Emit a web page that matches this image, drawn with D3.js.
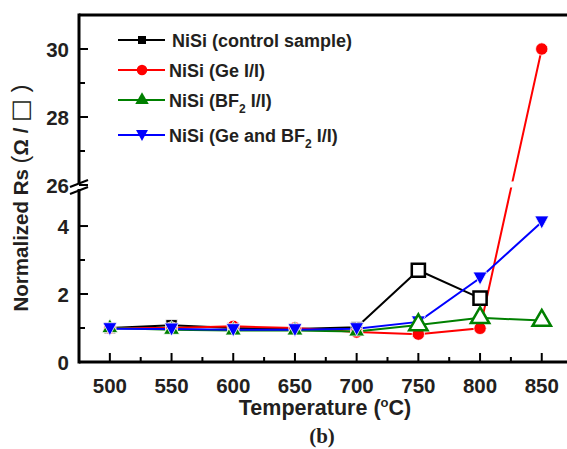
<!DOCTYPE html>
<html>
<head>
<meta charset="utf-8">
<script src="https://cdn.jsdelivr.net/npm/d3@7"></script>
<style>
  body { margin: 0; background: #fff; }
  text { font-family: "Liberation Sans", Arial, sans-serif; font-weight: bold; fill: #231f20; }
</style>
</head>
<body>
<div id="chart-area"></div>
<script>
// Data
let temps = [500, 550, 600, 650, 700, 750, 800, 850];
let control = [1.0, 1.08, 1.0, 0.97, 1.02, 2.7, 1.88, null];
let geII = [1.0, 1.0, 1.05, 1.0, 0.88, 0.82, 0.99, 30];
let bf2II = [1.0, 0.95, 0.93, 0.93, 0.9, 1.09, 1.3, 1.22];
let geBf2II = [0.98, 0.97, 0.95, 0.95, 0.98, 1.18, 2.47, 4.12];
let xTicks = [500, 550, 600, 650, 700, 750, 800, 850];
let yTicksLow = [0, 2, 4];
let yTicksHigh = [26, 28, 30];

let width = 567, height = 449;
let svg = d3.select("#chart-area").append("svg")
    .attr("width", width)
    .attr("height", height);

// Scales (broken y axis)
let plotL = 79, plotR = 567, plotT = 15, plotB = 362;
let x = d3.scaleLinear().domain([475, 870]).range([plotL, plotL + (870 - 475) * 61.7 / 50]);
let yLow = d3.scaleLinear().domain([0, 5.06]).range([plotB, 190]);
let yHigh = d3.scaleLinear().domain([26, 31]).range([185, plotT]);
let y = v => v <= 5.06 ? yLow(v) : yHigh(v);

let series = [
  {name: "NiSi (control sample)", values: control, color: "#000", shape: "square", openFrom: 5},
  {name: "NiSi (Ge I/I)", values: geII, color: "#ff0000", shape: "circle", openFrom: 99},
  {name: "NiSi (BF|2| I/I)", values: bf2II, color: "#008000", shape: "triangle", openFrom: 5},
  {name: "NiSi (Ge and BF|2| I/I)", values: geBf2II, color: "#0000ff", shape: "triangleDown", openFrom: 99}
];

function symbolPath(shape) {
  if (shape === "square") return d3.symbol(d3.symbolSquare, 130)();
  if (shape === "circle") return d3.symbol(d3.symbolCircle, 120)();
  if (shape === "triangle") return d3.symbol(d3.symbolTriangle, 110)();
  return "M-7,-6L7,-6L0,7Z";
}

// Lines
let line = d3.line()
    .defined(d => d.v != null)
    .x(d => x(d.t))
    .y(d => y(d.v));

let plot = svg.append("g");
series.forEach(s => {
  let pts = temps.map((t, i) => ({t: t, v: s.values[i]}));
  plot.append("path")
      .datum(pts)
      .attr("fill", "none")
      .attr("stroke", s.color)
      .attr("stroke-width", 2)
      .attr("d", line);
});

// White gap where lines cross the break
plot.append("path")
    .attr("d", `M${plotL + 2},${186}L${plotR},${181}L${plotR},${187}L${plotL + 2},${192}Z`)
    .attr("fill", "#fff");

// Markers: filled first, open ones on top
[false, true].forEach(openPass => {
  series.forEach(s => {
    temps.forEach((t, i) => {
      let v = s.values[i];
      if (v == null) return;
      let open = i >= s.openFrom;
      if (open !== openPass) return;
      let sz = open ? 1.15 : 1;
      plot.append("path")
          .attr("d", symbolPath(s.shape))
          .attr("transform", `translate(${x(t)},${y(v)}) scale(${sz})`)
          .attr("fill", open ? "#fff" : s.color)
          .attr("stroke", open ? s.color : "#fff")
          .attr("stroke-width", open ? 2.2 : 0.8);
    });
  });
});

// Axes frame
let axis = svg.append("g").attr("stroke", "#000").attr("stroke-width", 3);
axis.append("line").attr("x1", plotL).attr("x2", plotR).attr("y1", plotB).attr("y2", plotB);
axis.append("line").attr("x1", plotL).attr("x2", plotR).attr("y1", plotT).attr("y2", plotT);
axis.append("line").attr("x1", plotL).attr("x2", plotL).attr("y1", plotT - 1.5).attr("y2", 183);
axis.append("line").attr("x1", plotL).attr("x2", plotL).attr("y1", 189).attr("y2", plotB + 1.5);

// Break marks
axis.append("line").attr("x1", plotL - 9).attr("x2", plotL + 9).attr("y1", 187).attr("y2", 180).attr("stroke-width", 2);
axis.append("line").attr("x1", plotL - 9).attr("x2", plotL + 9).attr("y1", 194).attr("y2", 187).attr("stroke-width", 2);

// X ticks (inward)
let xMinor = d3.range(475, 870, 25);
xMinor.forEach(t => {
  let major = t % 50 === 0;
  axis.append("line")
      .attr("x1", x(t)).attr("x2", x(t))
      .attr("y1", plotB).attr("y2", plotB - (major ? 9 : 5))
      .attr("stroke-width", 2);
});
svg.selectAll(".xlab").data(xTicks).enter().append("text")
    .attr("x", d => x(d)).attr("y", 393)
    .attr("text-anchor", "middle")
    .attr("font-size", 20.5)
    .text(d => d);

// Y ticks (inward)
function yTicks(scale, majors, minors) {
  majors.concat(minors).forEach(v => {
    let major = majors.includes(v);
    axis.append("line")
        .attr("x1", plotL).attr("x2", plotL + (major ? 9 : 6))
        .attr("y1", scale(v)).attr("y2", scale(v))
        .attr("stroke-width", 2);
  });
  svg.selectAll(null).data(majors).enter().append("text")
      .attr("x", 69).attr("y", d => scale(d) + 7.5)
      .attr("text-anchor", "end")
      .attr("font-size", 20.5)
      .text(d => d);
}
yTicks(yLow, yTicksLow, [1, 3]);
yTicks(yHigh, yTicksHigh, [27, 29]);

// Axis titles
svg.append("text")
    .attr("x", 325).attr("y", 415)
    .attr("text-anchor", "middle")
    .attr("font-size", 21.5)
    .html('Temperature (<tspan dy="-8" font-size="13">o</tspan><tspan dy="8">C)</tspan>');

let ylab = svg.append("text")
    .attr("transform", "translate(28,198) rotate(-90)")
    .attr("text-anchor", "middle")
    .attr("font-size", 20.5);
ylab.append("tspan").text("Normalized Rs ");
ylab.append("tspan").attr("font-size", 24).attr("font-weight", "normal").text("(");
ylab.append("tspan").text("\u03A9 / ");
ylab.append("tspan").style("font-family", "'DejaVu Sans'").attr("font-weight", "normal").attr("font-size", 24).text("\u25A1");
ylab.append("tspan").attr("font-size", 24).attr("font-weight", "normal").text(" )");

svg.append("text")
    .attr("x", 322).attr("y", 443)
    .attr("text-anchor", "middle")
    .attr("font-size", 21)
    .style("font-family", "'Liberation Serif', 'Times New Roman', serif")
    .text("(b)");

// Legend
let legendY = [40, 70, 100, 135];
series.forEach((s, i) => {
  let g = svg.append("g").attr("transform", `translate(0,${legendY[i]})`);
  g.append("line").attr("x1", 118).attr("x2", 165).attr("stroke", s.color).attr("stroke-width", 2);
  g.append("path").attr("d", symbolPath(s.shape))
      .attr("transform", `translate(142,0) scale(${s.shape === "square" ? 0.7 : 0.85})`)
      .attr("fill", s.color);
  let parts = s.name.split("|");
  let txt = g.append("text").attr("x", i === 0 ? 172 : 169).attr("y", 6.5).attr("font-size", 18);
  txt.append("tspan").text(parts[0]);
  if (parts.length > 1) {
    txt.append("tspan").attr("dy", 6).attr("font-size", 12).text(parts[1]);
    txt.append("tspan").attr("dy", -6).text(parts[2]);
  }
});
</script>
</body>
</html>
